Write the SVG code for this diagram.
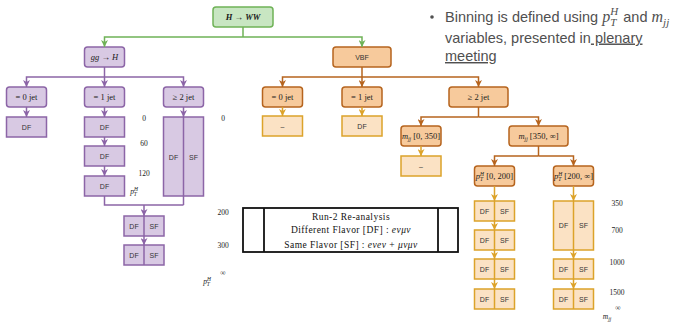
<svg xmlns="http://www.w3.org/2000/svg" width="674" height="322" viewBox="0 0 674 322">
<defs>
<style>
.g{fill:#c8e6c2;stroke:#6fb257;stroke-width:1.5}
.p{fill:#d8c9e3;stroke:#8c65a7;stroke-width:1.5}
.o{fill:#f7ca9c;stroke:#b6641e;stroke-width:1.5}
.y{fill:#fbe2c4;stroke:#dca32a;stroke-width:1.5}
.lg{fill:none;stroke:#6fb257;stroke-width:1.5}
.lp{fill:none;stroke:#8c65a7;stroke-width:1.5}
.lo{fill:none;stroke:#b6641e;stroke-width:1.5}
.ly{fill:none;stroke:#dca32a;stroke-width:1.5}
.t{font-family:"Liberation Serif",serif;font-size:8.5px;fill:#1a1a1a;text-anchor:middle}
.s{font-family:"Liberation Sans",sans-serif;font-size:7px;fill:#333;text-anchor:middle}
.ax{font-family:"Liberation Serif",serif;font-size:7.5px;fill:#222;text-anchor:middle}
.lt{font-family:"Liberation Serif",serif;font-size:9.5px;fill:#111;text-anchor:middle;letter-spacing:0.45px}
.i{font-style:italic}
.sub{font-size:5.5px;font-style:italic}
.bul{font-family:"Liberation Sans",sans-serif;font-size:14.5px;fill:#505050}
.m{font-family:"Liberation Serif",serif;font-style:italic}
</style>
<marker id="ag" viewBox="0 0 10 10" refX="10" refY="5" markerUnits="userSpaceOnUse" markerWidth="7" markerHeight="7" orient="auto"><path d="M0,0 L10,5 L0,10 L3,5 z" fill="#6fb257"/></marker>
<marker id="ap" viewBox="0 0 10 10" refX="10" refY="5" markerUnits="userSpaceOnUse" markerWidth="7" markerHeight="7" orient="auto"><path d="M0,0 L10,5 L0,10 L3,5 z" fill="#8c65a7"/></marker>
<marker id="ao" viewBox="0 0 10 10" refX="10" refY="5" markerUnits="userSpaceOnUse" markerWidth="7" markerHeight="7" orient="auto"><path d="M0,0 L10,5 L0,10 L3,5 z" fill="#b6641e"/></marker>
<marker id="ay" viewBox="0 0 10 10" refX="10" refY="5" markerUnits="userSpaceOnUse" markerWidth="7" markerHeight="7" orient="auto"><path d="M0,0 L10,5 L0,10 L3,5 z" fill="#dca32a"/></marker>
</defs>
<rect width="674" height="322" fill="#ffffff"/>

<!-- bullet text -->
<g id="note">
<circle cx="432" cy="17" r="1.8" fill="#505050"/>
<text class="bul" x="445" y="22">Binning is defined using <tspan class="m" font-size="16">p</tspan><tspan class="m" font-size="11" dy="-7">H</tspan><tspan class="m" font-size="11" dx="-8" dy="11">T</tspan><tspan dx="3" dy="-4"> and </tspan><tspan class="m" font-size="16">m</tspan><tspan class="m" font-size="11" dy="4">jj</tspan></text>
<text class="bul" x="445" y="42.5">variables, presented in<tspan text-decoration="underline"> plenary</tspan></text>
<text class="bul" x="445" y="61"><tspan text-decoration="underline">meeting</tspan></text>
</g>

<!-- green root -->
<g id="n-hww"><rect class="g" x="213" y="7" width="60" height="20" rx="3"/><text class="t" x="243" y="20" font-weight="bold"><tspan class="i">H</tspan> → <tspan class="i">WW</tspan></text></g>

<!-- purple ggH branch -->
<g id="n-ggh"><rect class="p" x="84.5" y="47" width="40" height="20" rx="3"/><text class="t" x="104.5" y="60"><tspan class="i">gg</tspan> → <tspan class="i">H</tspan></text></g>
<g id="n-p0"><rect class="p" x="6.5" y="87" width="40" height="20" rx="3"/><text class="t" x="26.5" y="100">= 0 jet</text></g>
<g id="n-p1"><rect class="p" x="84.5" y="87" width="40" height="20" rx="3"/><text class="t" x="104.5" y="100">= 1 jet</text></g>
<g id="n-p2"><rect class="p" x="163.5" y="87" width="40" height="20" rx="3"/><text class="t" x="183.5" y="100">≥  2 jet</text></g>
<g id="n-p0-df"><rect class="p" x="6.5" y="117" width="40" height="20"/><text class="s" x="26.5" y="129.5">DF</text></g>
<g id="n-p1-a"><rect class="p" x="84.5" y="117" width="40" height="20"/><text class="s" x="104.5" y="129.5">DF</text></g>
<g id="n-p1-b"><rect class="p" x="84.5" y="146" width="40" height="20"/><text class="s" x="104.5" y="158.5">DF</text></g>
<g id="n-p1-c"><rect class="p" x="84.5" y="176" width="40" height="20"/><text class="s" x="104.5" y="188.5">DF</text></g>
<g id="n-p2-big"><rect class="p" x="163.5" y="117" width="40" height="79"/><text class="s" x="173.5" y="159.5">DF</text><text class="s" x="193.5" y="159.5">SF</text></g>
<g id="n-p-200"><rect class="p" x="124" y="216" width="40" height="20"/><text class="s" x="134" y="228.5">DF</text><text class="s" x="154" y="228.5">SF</text></g>
<g id="n-p-300"><rect class="p" x="124" y="245" width="40" height="20"/><text class="s" x="134" y="257.5">DF</text><text class="s" x="154" y="257.5">SF</text></g>

<!-- orange VBF branch -->
<g id="n-vbf"><rect class="o" x="333" y="47" width="58" height="20" rx="3"/><text class="s" x="362" y="59.5" font-size="6.5">VBF</text></g>
<g id="n-o0"><rect class="o" x="262.5" y="87" width="40" height="20" rx="3"/><text class="t" x="282.5" y="100">= 0 jet</text></g>
<g id="n-o1"><rect class="o" x="342" y="87" width="40" height="20" rx="3"/><text class="t" x="362" y="100">= 1 jet</text></g>
<g id="n-o2"><rect class="o" x="449" y="87" width="59" height="20" rx="3"/><text class="t" x="478.5" y="100">≥  2 jet</text></g>
<g id="n-o0-x"><rect class="y" x="262.5" y="116" width="40" height="20"/><text class="s" x="282.5" y="128.5">–</text></g>
<g id="n-o1-df"><rect class="y" x="342" y="116" width="40" height="20"/><text class="s" x="362" y="128.5">DF</text></g>
<g id="n-mjj-lo"><rect class="o" x="401" y="126" width="40" height="20" rx="3"/><text class="t" x="421" y="139"><tspan class="i">m</tspan><tspan class="sub" dy="1.5">jj</tspan><tspan dy="-1.5"> [0, 350]</tspan></text></g>
<g id="n-mjj-lo-x"><rect class="y" x="401" y="156" width="40" height="20"/><text class="s" x="421" y="168.5">–</text></g>
<g id="n-mjj-hi"><rect class="o" x="509" y="126" width="59" height="20" rx="3"/><text class="t" x="538.5" y="139"><tspan class="i">m</tspan><tspan class="sub" dy="1.5">jj</tspan><tspan dy="-1.5"> [350, ∞]</tspan></text></g>
<g id="n-pt-lo"><rect class="o" x="474.5" y="166" width="40" height="20" rx="3"/><text class="t" x="494.5" y="179"><tspan class="i">p</tspan><tspan class="sub" dy="-3">H</tspan><tspan class="sub" dx="-4" dy="5">T</tspan><tspan dx="1" dy="-2"> [0, 200]</tspan></text></g>
<g id="n-pt-hi"><rect class="o" x="553.5" y="166" width="40" height="20" rx="3"/><text class="t" x="573.5" y="179"><tspan class="i">p</tspan><tspan class="sub" dy="-3">H</tspan><tspan class="sub" dx="-4" dy="5">T</tspan><tspan dx="1" dy="-2"> [200, ∞]</tspan></text></g>
<g id="n-yl-1"><rect class="y" x="474.5" y="201" width="40" height="20"/><text class="s" x="484.5" y="213.5">DF</text><text class="s" x="504.5" y="213.5">SF</text></g>
<g id="n-yl-2"><rect class="y" x="474.5" y="230" width="40" height="20"/><text class="s" x="484.5" y="242.5">DF</text><text class="s" x="504.5" y="242.5">SF</text></g>
<g id="n-yl-3"><rect class="y" x="474.5" y="259" width="40" height="20"/><text class="s" x="484.5" y="271.5">DF</text><text class="s" x="504.5" y="271.5">SF</text></g>
<g id="n-yl-4"><rect class="y" x="474.5" y="289" width="40" height="20"/><text class="s" x="484.5" y="301.5">DF</text><text class="s" x="504.5" y="301.5">SF</text></g>
<g id="n-yr-1"><rect class="y" x="553.5" y="201" width="40" height="49"/><text class="s" x="563.5" y="228">DF</text><text class="s" x="583.5" y="228">SF</text></g>
<g id="n-yr-2"><rect class="y" x="553.5" y="259" width="40" height="20"/><text class="s" x="563.5" y="271.5">DF</text><text class="s" x="583.5" y="271.5">SF</text></g>
<g id="n-yr-3"><rect class="y" x="553.5" y="289" width="40" height="20"/><text class="s" x="563.5" y="301.5">DF</text><text class="s" x="583.5" y="301.5">SF</text></g>

<!-- legend table -->
<g id="legend">
<rect x="243" y="208" width="215" height="44" fill="none" stroke="#111" stroke-width="1.8"/>
<line x1="264" y1="208" x2="264" y2="252" stroke="#111" stroke-width="1.8"/>
<line x1="438" y1="208" x2="438" y2="252" stroke="#111" stroke-width="1.8"/>
<text class="lt" x="351" y="219.5">Run-2 Re-analysis</text>
<text class="lt" x="351" y="233">Different Flavor [DF] : <tspan class="i">eνμν</tspan></text>
<text class="lt" x="351" y="247.5">Same Flavor [SF] : <tspan class="i">eνeν</tspan> + <tspan class="i">μνμν</tspan></text>
</g>

<!-- axis labels -->
<g id="labels">
<text class="ax" x="144" y="120.5">0</text>
<text class="ax" x="144" y="145.5">60</text>
<text class="ax" x="144" y="175.5">120</text>
<text class="ax" x="134" y="194"><tspan class="i">p</tspan><tspan class="sub" dy="-3">H</tspan><tspan class="sub" dx="-4" dy="5">T</tspan></text>
<text class="ax" x="223" y="120.5">0</text>
<text class="ax" x="223" y="214.5">200</text>
<text class="ax" x="223" y="247.5">300</text>
<text class="ax" x="223" y="274.5">∞</text>
<text class="ax" x="207" y="284"><tspan class="i">p</tspan><tspan class="sub" dy="-3">H</tspan><tspan class="sub" dx="-4" dy="5">T</tspan></text>
<text class="ax" x="617" y="205.5">350</text>
<text class="ax" x="617" y="232.5">700</text>
<text class="ax" x="617" y="265">1000</text>
<text class="ax" x="617" y="294.5">1500</text>
<text class="ax" x="618" y="309.5">∞</text>
<text class="ax" x="607" y="319"><tspan class="i">m</tspan><tspan class="sub" dy="1.5">jj</tspan></text>
</g>

<!-- connectors -->
<g id="connectors">
<path class="lg" d="M243,27V37"/>
<path class="lg" d="M243,37H104.5V47" marker-end="url(#ag)"/>
<path class="lg" d="M243,37H362V47" marker-end="url(#ag)"/>

<path class="lp" d="M104.5,67V77"/>
<path class="lp" d="M104.5,77H26.5V87" marker-end="url(#ap)"/>
<path class="lp" d="M104.5,77V87" marker-end="url(#ap)"/>
<path class="lp" d="M104.5,77H183.5V87" marker-end="url(#ap)"/>
<path class="lp" d="M26.5,107V117" marker-end="url(#ap)"/>
<path class="lp" d="M104.5,107V117" marker-end="url(#ap)"/>
<path class="lp" d="M104.5,137V146" marker-end="url(#ap)"/>
<path class="lp" d="M104.5,166V176" marker-end="url(#ap)"/>
<path class="lp" d="M183.5,107V117" marker-end="url(#ap)"/>
<path class="lp" d="M183.5,117V205"/>
<path class="lp" d="M104.5,196V205H183.5"/>
<path class="lp" d="M144,205V216" marker-end="url(#ap)"/>
<path class="lp" d="M144,216V236"/>
<path class="lp" d="M144,236V245" marker-end="url(#ap)"/>
<path class="lp" d="M144,245V265"/>

<path class="lo" d="M362,67V77"/>
<path class="lo" d="M362,77H282.5V87" marker-end="url(#ao)"/>
<path class="lo" d="M362,77V87" marker-end="url(#ao)"/>
<path class="lo" d="M362,77H478.5V87" marker-end="url(#ao)"/>
<path class="lo" d="M478.5,107V117"/>
<path class="lo" d="M478.5,117H421V126" marker-end="url(#ao)"/>
<path class="lo" d="M478.5,117H538.5V126" marker-end="url(#ao)"/>
<path class="lo" d="M538.5,146V156"/>
<path class="lo" d="M538.5,156H494.5V166" marker-end="url(#ao)"/>
<path class="lo" d="M538.5,156H573.5V166" marker-end="url(#ao)"/>

<path class="ly" d="M282.5,107V116" marker-end="url(#ay)"/>
<path class="ly" d="M362,107V116" marker-end="url(#ay)"/>
<path class="ly" d="M421,146V156" marker-end="url(#ay)"/>
<path class="ly" d="M494.5,186V201" marker-end="url(#ay)"/>
<path class="ly" d="M494.5,201V221"/>
<path class="ly" d="M494.5,221V230" marker-end="url(#ay)"/>
<path class="ly" d="M494.5,230V250"/>
<path class="ly" d="M494.5,250V259" marker-end="url(#ay)"/>
<path class="ly" d="M494.5,259V279"/>
<path class="ly" d="M494.5,279V289" marker-end="url(#ay)"/>
<path class="ly" d="M494.5,289V309"/>
<path class="ly" d="M573.5,186V201" marker-end="url(#ay)"/>
<path class="ly" d="M573.5,201V250"/>
<path class="ly" d="M573.5,250V259" marker-end="url(#ay)"/>
<path class="ly" d="M573.5,259V279"/>
<path class="ly" d="M573.5,279V289" marker-end="url(#ay)"/>
<path class="ly" d="M573.5,289V309"/>
</g>
</svg>
